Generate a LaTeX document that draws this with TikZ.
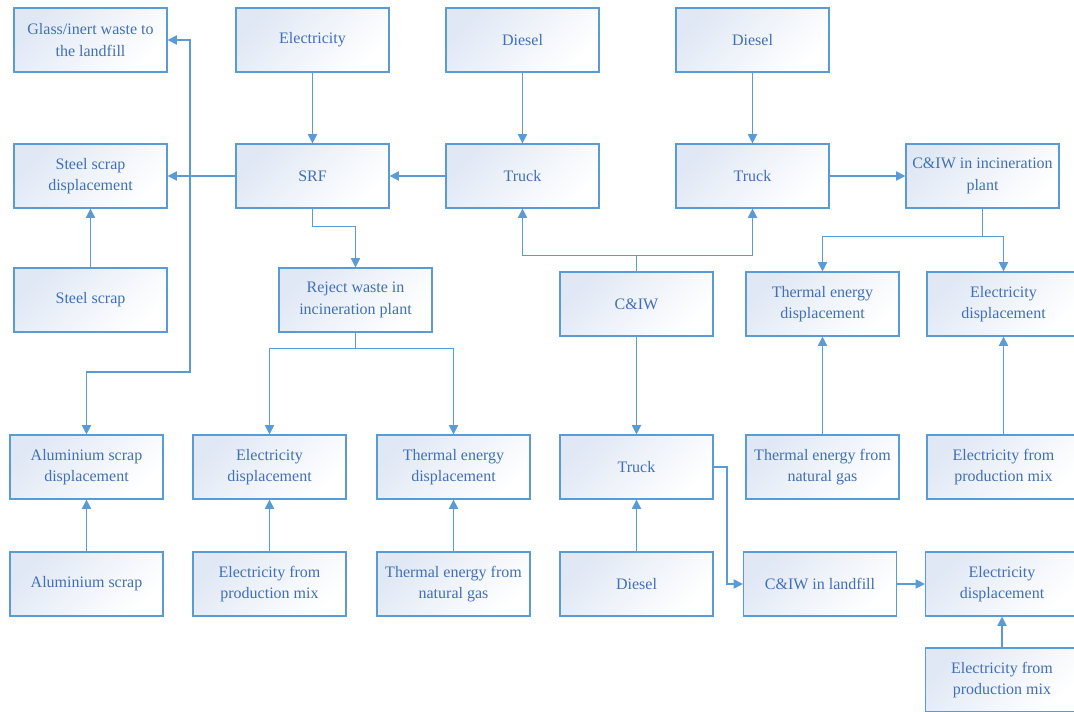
\documentclass[tikz,border=0pt]{standalone}
\usepackage{fontspec}
\setmainfont{Liberation Serif}
\newfontfamily\boxfont{Liberation Serif}
\usetikzlibrary{arrows.meta}
\definecolor{lineblue}{RGB}{91,155,213}
\definecolor{textblue}{RGB}{66,112,180}
\definecolor{fillblue}{RGB}{224,232,245}
\begin{document}
\begin{tikzpicture}[x=0.75pt,y=-0.75pt,
  box/.style={draw=lineblue, line width=0.9pt, top color=fillblue, bottom color=white, shading angle=45,
    minimum width=114.75pt, minimum height=48pt, inner sep=2pt, align=center,
    text=textblue, font=\boxfont\fontsize{12pt}{16pt}\selectfont},
  conn/.style={draw=lineblue, line width=0.9pt},
  arr/.style={conn, -{Triangle[length=7pt,width=7pt]}}]
\useasboundingbox (0,0) rectangle (1074,711);
% row 1
\node[box] (glass) at (90.5,40) {Glass/inert waste to\\the landfill};
\node[box] (elec1) at (312.5,40) {Electricity};
\node[box] (diesel1) at (522.5,40) {Diesel};
\node[box] (diesel2) at (752.5,40) {Diesel};
% row 2
\node[box] (steeldisp) at (90.5,176) {Steel scrap\\displacement};
\node[box] (srf) at (312.5,176) {SRF};
\node[box] (truck1) at (522.5,176) {Truck};
\node[box] (truck2) at (752.5,176) {Truck};
\node[box] (ciwinc) at (982.5,176) {C\&IW in incineration\\plant};
% row 3
\node[box] (steel) at (90.5,300) {Steel scrap};
\node[box] (reject) at (355.5,300) {Reject waste in\\incineration plant};
\node[box] (ciw) at (636.5,304) {C\&IW};
\node[box] (thdisp1) at (822.5,304) {Thermal energy\\displacement};
\node[box] (eldisp1) at (1003.5,304) {Electricity\\displacement};
% row 4
\node[box] (aldisp) at (86.5,467) {Aluminium scrap\\displacement};
\node[box] (eldisp2) at (269.5,467) {Electricity\\displacement};
\node[box] (thdisp2) at (453.5,467) {Thermal energy\\displacement};
\node[box] (truck3) at (636.5,467) {Truck};
\node[box] (thgas1) at (822.5,467) {Thermal energy from\\natural gas};
\node[box] (elmix1) at (1003.5,467) {Electricity from\\production mix};
% row 5
\node[box] (alscrap) at (86.5,584) {Aluminium scrap};
\node[box] (elmix2) at (269.5,584) {Electricity from\\production mix};
\node[box] (thgas2) at (453.5,584) {Thermal energy from\\natural gas};
\node[box] (diesel3) at (636.5,584) {Diesel};
\node[box] (landfill) at (820,584) {C\&IW in landfill};
\node[box] (eldisp3) at (1002,584) {Electricity\\displacement};
% row 6
\node[box] (elmix3) at (1002,680) {Electricity from\\production mix};
% coordinates
\coordinate (j1) at (190,176);
\coordinate (j2) at (190,372);
\coordinate (j3) at (727,467);
% connectors
\draw[arr] (elec1) -- (srf);
\draw[arr] (diesel1) -- (truck1);
\draw[arr] (diesel2) -- (truck2);
\draw[arr] (truck1) -- (srf);
\draw[arr] (srf) -- (steeldisp);
\draw[arr] (j1) |- (glass.east);
\draw[arr] (j1) -- (j2) -| (aldisp.north);
\draw[arr] (steel) -- (steeldisp);
\draw[arr] (srf.south) -- ++(0,18) -| (reject.north);
\draw[arr] (reject.south) -- ++(0,16) -| (eldisp2.north);
\draw[arr] (reject.south) -- ++(0,16) -| (thdisp2.north);
\draw[arr] (elmix2) -- (eldisp2);
\draw[arr] (thgas2) -- (thdisp2);
\draw[arr] (alscrap) -- (aldisp);
\draw[arr] (ciw.north) -- ++(0,-16) -| (truck1.south);
\draw[arr] (ciw.north) -- ++(0,-16) -| (truck2.south);
\draw[arr] (truck2) -- (ciwinc);
\draw[arr] (ciwinc.south) -- ++(0,28) -| (thdisp1.north);
\draw[arr] (ciwinc.south) -- ++(0,28) -| (eldisp1.north);
\draw[arr] (thgas1) -- (thdisp1);
\draw[arr] (elmix1) -- (eldisp1);
\draw[arr] (ciw) -- (truck3);
\draw[arr] (diesel3) -- (truck3);
\draw[arr] (truck3.east) -- (j3) |- (landfill.west);
\draw[arr] (landfill) -- (eldisp3);
\draw[arr] (elmix3) -- (eldisp3);
\end{tikzpicture}
\end{document}
